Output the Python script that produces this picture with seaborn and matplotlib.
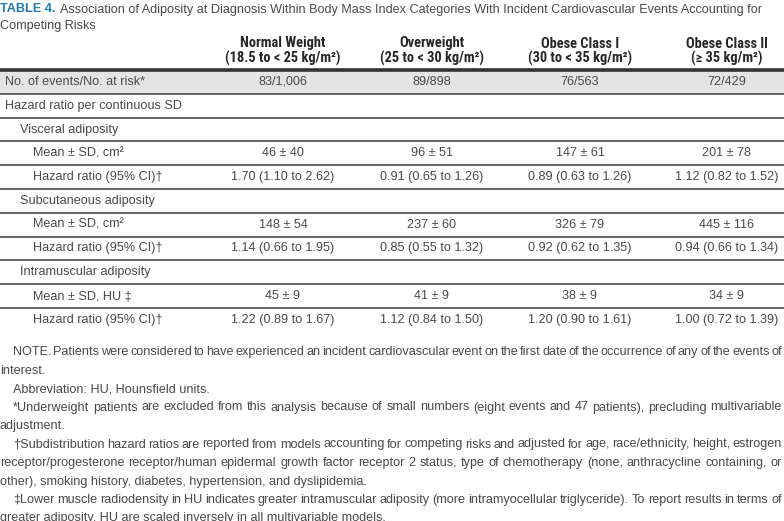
import matplotlib
matplotlib.use("Agg")
import matplotlib.pyplot as plt
from matplotlib import font_manager
import seaborn as sns
import numpy as np
import pandas as pd

# ---------------- data ----------------
title_lead = "TABLE 4."
title_line1 = ("Association of Adiposity at Diagnosis Within Body Mass Index Categories "
               "With Incident Cardiovascular Events Accounting for")
title_line2 = "Competing Risks"

categories = ["Normal Weight", "Overweight", "Obese Class I", "Obese Class II"]
bmi_ranges = ["(18.5 to < 25 kg/m²)", "(25 to < 30 kg/m²)",
              "(30 to < 35 kg/m²)", "(≥ 35 kg/m²)"]

events = ["83/1,006", "89/898", "76/563", "72/429"]

visceral_mean = [46, 96, 147, 201]
visceral_sd = [40, 51, 61, 78]
visceral_hr = [1.70, 0.91, 0.89, 1.12]
visceral_lo = [1.10, 0.65, 0.63, 0.82]
visceral_hi = [2.62, 1.26, 1.26, 1.52]

subcut_mean = [148, 237, 326, 445]
subcut_sd = [54, 60, 79, 116]
subcut_hr = [1.14, 0.85, 0.92, 0.94]
subcut_lo = [0.66, 0.55, 0.62, 0.66]
subcut_hi = [1.95, 1.32, 1.35, 1.34]

intram_mean = [45, 41, 38, 34]
intram_sd = [9, 9, 9, 9]
intram_hr = [1.22, 1.12, 1.20, 1.00]
intram_lo = [0.89, 0.84, 0.90, 0.72]
intram_hi = [1.67, 1.50, 1.61, 1.39]

row_labels = ["No. of events/No. at risk*", "Hazard ratio per continuous SD",
              "Visceral adiposity", "Mean ± SD, cm²", "Hazard ratio (95% CI)†",
              "Subcutaneous adiposity", "Mean ± SD, cm²", "Hazard ratio (95% CI)†",
              "Intramuscular adiposity", "Mean ± SD, HU ‡", "Hazard ratio (95% CI)†"]
row_levels = [0, 0, 1, 2, 2, 1, 2, 2, 1, 2, 2]

footnotes = [
    ["NOTE. Patients were considered to have experienced an incident cardiovascular event on the first date of the occurrence of any of the events of",
     "interest."],
    ["Abbreviation: HU, Hounsfield units."],
    ["*Underweight patients are excluded from this analysis because of small numbers (eight events and 47 patients), precluding multivariable",
     "adjustment."],
    ["†Subdistribution hazard ratios are reported from models accounting for competing risks and adjusted for age, race/ethnicity, height, estrogen",
     "receptor/progesterone receptor/human epidermal growth factor receptor 2 status, type of chemotherapy (none, anthracycline containing, or",
     "other), smoking history, diabetes, hypertension, and dyslipidemia."],
    ["‡Lower muscle radiodensity in HU indicates greater intramuscular adiposity (more intramyocellular triglyceride). To report results in terms of",
     "greater adiposity, HU are scaled inversely in all multivariable models."],
]


def mean_sd(m, s):
    return [f"{a} ± {b}" for a, b in zip(m, s)]


def hr_ci(h, lo, hi):
    return [f"{a:.2f} ({b:.2f} to {c:.2f})" for a, b, c in zip(h, lo, hi)]


cells = [events, [""] * 4, [""] * 4,
         mean_sd(visceral_mean, visceral_sd), hr_ci(visceral_hr, visceral_lo, visceral_hi),
         [""] * 4,
         mean_sd(subcut_mean, subcut_sd), hr_ci(subcut_hr, subcut_lo, subcut_hi),
         [""] * 4,
         mean_sd(intram_mean, intram_sd), hr_ci(intram_hr, intram_lo, intram_hi)]
table = pd.DataFrame(cells, index=range(len(row_labels)), columns=categories)
shade = pd.DataFrame({"shade": [1] + [0] * (len(row_labels) - 1)})

# ---------------- style ----------------
sns.set_theme(style="white")
plt.rcParams['font.family'] = ['Liberation Sans', 'DejaVu Sans']

installed = {f.name for f in font_manager.fontManager.ttflist}
hdr_font = [f for f in ['Roboto Condensed', 'Liberation Sans Narrow', 'Open Sans Condensed',
                        'Roboto'] if f in installed] + ['DejaVu Sans']
hdr_font = hdr_font[:1] + ['DejaVu Sans']

W, H = 784, 521
fig = plt.figure(figsize=(W / 100, H / 100), dpi=100)
fig.patch.set_facecolor("white")

TXT = "#4a4a4a"
HDR = "#262626"
BLUE = "#2277b3"
FS = 9.1

# background shading of rows via seaborn heatmap (table body region)
top, row_h = 70.0, 23.8
n_rows = len(row_labels)
bottom = top + row_h * n_rows
hax = fig.add_axes([0, 1 - bottom / H, 1, (bottom - top) / H])
sns.heatmap(shade, ax=hax, cmap=sns.color_palette(["#ffffff", "#e4e4e4"], as_cmap=True),
            cbar=False, xticklabels=False, yticklabels=False, vmin=0, vmax=1)
hax.set_axis_off()

ax = fig.add_axes([0, 0, 1, 1], facecolor="none")
ax.set_xlim(0, W)
ax.set_ylim(H, 0)
ax.set_axis_off()
renderer = fig.canvas.get_renderer()


def width_of(t):
    return t.get_window_extent(renderer).width


# title
TFS = 9.1
t = ax.text(0, 12.5, title_lead + " ", color=BLUE, fontsize=TFS, fontweight="bold",
            va="baseline", ha="left")
w = width_of(t)
ax.text(w + 1, 12.5, title_line1, color=TXT, fontsize=TFS, va="baseline", ha="left")
ax.text(0, 28.5, title_line2, color=TXT, fontsize=TFS, va="baseline", ha="left")

# column headers
col_x = [283, 432, 580, 727]
HFS = 10.4
for x, c, r in zip(col_x, categories, bmi_ranges):
    ax.text(x, 47.5, c, ha="center", va="baseline", fontsize=HFS, fontweight="bold",
            color=HDR, family=hdr_font)
    ax.text(x, 63, r, ha="center", va="baseline", fontsize=HFS, fontweight="bold",
            color=HDR, family=hdr_font)

# rules
ax.plot([0, W], [top, top], color="#333333", lw=2.6, solid_capstyle="butt")
for i in range(1, n_rows):
    y = top + i * row_h
    ax.plot([0, W], [y, y], color="#3a3a3a", lw=1.1, solid_capstyle="butt")

# body
indents = [5, 20, 33]
for i, (lab, lev) in enumerate(zip(row_labels, row_levels)):
    yc = top + (i + 0.5) * row_h
    ax.text(indents[lev], yc, lab, ha="left", va="center", fontsize=FS, color=TXT)
    for x, val in zip(col_x, table.iloc[i]):
        if val:
            ax.text(x, yc, val, ha="center", va="center", fontsize=FS, color=TXT)

# footnotes (justified like the journal layout)
x_right = 782
y = 352
step = 18.5
for para in footnotes:
    for j, line in enumerate(para):
        x0 = 13 if j == 0 else 0
        last = (j == len(para) - 1)
        if last:
            ax.text(x0, y, line, ha="left", va="center", fontsize=FS, color=TXT)
        else:
            words = line.split(" ")
            objs = [ax.text(0, y, wd, ha="left", va="center", fontsize=FS, color=TXT)
                    for wd in words]
            widths = [width_of(o) for o in objs]
            gap = (x_right - x0 - sum(widths)) / (len(words) - 1)
            xx = x0
            for o, wd in zip(objs, widths):
                o.set_x(xx)
                xx += wd + gap
        y += step

fig.savefig("out.png", dpi=100, facecolor="white")
